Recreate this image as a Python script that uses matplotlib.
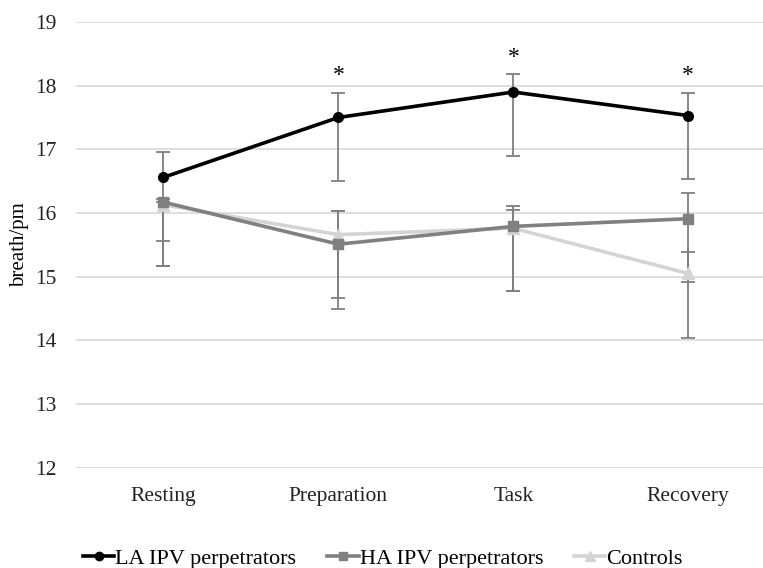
import numpy as np
import matplotlib.pyplot as plt
from matplotlib.lines import Line2D

plt.rcParams['font.family'] = ['Liberation Serif', 'DejaVu Serif']

phases = ["Resting", "Preparation", "Task", "Recovery"]

la = [16.56, 17.50, 17.90, 17.53]
la_up = [0.40, 0.39, 0.29, 0.36]
la_down = [1.00, 1.00, 1.00, 1.00]

ha = [16.17, 15.51, 15.79, 15.91]
ha_up = [0.05, 0.52, 0.32, 0.40]
ha_down = [1.01, 1.01, 1.01, 0.99]

ctrl = [16.13, 15.66, 15.76, 15.05]
ctrl_up = [0.05, 0.37, 0.28, 0.33]
ctrl_down = [0.97, 1.00, 0.98, 1.01]

star_y = [None, 18.16, 18.45, 18.16]

x = np.arange(len(phases))

fig = plt.figure(figsize=(7.63, 5.68), dpi=100)
ax = fig.add_axes([0.0996, 0.1766, 0.917, 0.7847])

series = [
    ("LA IPV perpetrators", la, la_up, la_down, "black", "o", 7),
    ("HA IPV perpetrators", ha, ha_up, ha_down, "#808080", "s", 7),
    ("Controls", ctrl, ctrl_up, ctrl_down, "#d4d4d4", "^", 8),
]

# error bars first, lines on top (like the original)
for name, vals, up, down, col, mk, ms in series:
    ax.errorbar(x, vals, yerr=[down, up], fmt="none", ecolor="#7f7f7f",
                elinewidth=1.3, capsize=5, capthick=1.3, zorder=2)

handles = []
for name, vals, up, down, col, mk, ms in series[::-1]:
    ax.plot(x, vals, color=col, marker=mk, markersize=ms, linewidth=2.6, zorder=3)
for name, vals, up, down, col, mk, ms in series:
    handles.append(Line2D([], [], color=col, marker=mk, markersize=ms - 1,
                          linewidth=2.6, label=name))

for i, sy in enumerate(star_y):
    if sy is not None:
        ax.text(x[i], sy, "*", ha="center", va="center", fontsize=17)

ax.set_xlim(-0.5, 3.5)
ax.set_ylim(12, 19)
ax.set_yticks(range(12, 20))
ax.set_xticks(x)
ax.set_xticklabels(phases)
ax.yaxis.grid(True, color="#d9d9d9", linewidth=1.2)
ax.set_axisbelow(True)
for s in ax.spines.values():
    s.set_visible(False)
ax.tick_params(axis="both", length=0, labelsize=15.5, colors="#222222")
ax.tick_params(axis="y", pad=14)
ax.tick_params(axis="x", pad=14)
ax.set_ylabel("breath/pm", fontsize=15)
ax.yaxis.set_label_coords(-0.067, 0.5)

fig.legend(handles=handles, loc="center", bbox_to_anchor=(0.502, 0.016),
           ncol=3, frameon=False, fontsize=16, handlelength=1.4,
           handletextpad=0.05, columnspacing=1.4)

fig.savefig("out.png", dpi=100)
